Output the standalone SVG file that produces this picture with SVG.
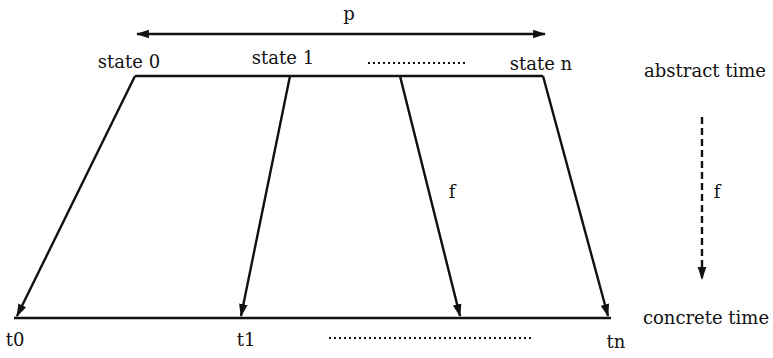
<svg xmlns="http://www.w3.org/2000/svg" width="773" height="358" viewBox="0 0 773 358">
<style>
text{font-family:"DejaVu Serif","Liberation Serif",serif;font-size:18px;fill:#111}
.ln{stroke:#111;stroke-width:2.4;fill:none}
.dot{stroke:#111;stroke-width:2;stroke-dasharray:2 3;fill:none}
</style>
<defs>
<marker id="ah" viewBox="0 0 12 10" refX="11" refY="5" markerWidth="5.5" markerHeight="4.5" orient="auto-start-reverse" markerUnits="strokeWidth">
<path d="M0,1 L12,5 L0,9 Z" fill="#111"/>
</marker>
</defs>
<rect width="773" height="358" fill="#fff"/>
<g id="abstract-time">
<path class="ln" d="M135,76 H543"/>
<text x="129" y="68" text-anchor="middle">state 0</text>
<text x="283" y="64" text-anchor="middle">state 1</text>
<path class="dot" d="M368,63 H468"/>
<text x="541" y="70" text-anchor="middle">state n</text>
<text x="705" y="77" text-anchor="middle">abstract time</text>
</g>
<g id="concrete-time">
<path class="ln" d="M14,318 H611"/>
<text x="15" y="346" text-anchor="middle">t0</text>
<text x="246" y="346" text-anchor="middle">t1</text>
<path class="dot" d="M329,338 H533"/>
<text x="616" y="348" text-anchor="middle">tn</text>
<text x="706" y="324" text-anchor="middle">concrete time</text>
</g>
<g id="connectors">
<path class="ln" d="M137,34 H545" marker-start="url(#ah)" marker-end="url(#ah)"/>
<path class="ln" d="M135,76 L17,316" marker-end="url(#ah)"/>
<path class="ln" d="M290,76 L241,316" marker-end="url(#ah)"/>
<path class="ln" d="M400,76 L460,316" marker-end="url(#ah)"/>
<path class="ln" d="M543,76 L608,316" marker-end="url(#ah)"/>
<path class="ln" d="M702,117 V279" stroke-dasharray="7 4" marker-end="url(#ah)"/>
</g>
<g id="labels">
<text x="349" y="20" text-anchor="middle" font-size="21">p</text>
<text x="452" y="198" text-anchor="middle">f</text>
<text x="717" y="198" text-anchor="middle">f</text>
</g>
</svg>
